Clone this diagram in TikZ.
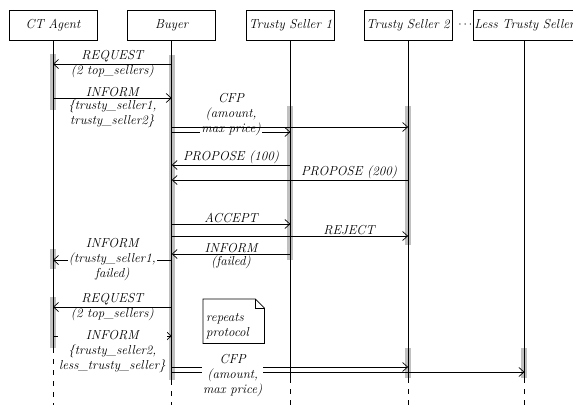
\documentclass[tikz,border=0pt]{standalone}
\usetikzlibrary{arrows.meta,positioning}
\definecolor{actgray}{HTML}{C0C0C0}

\begin{document}
\begin{tikzpicture}[x=1pt,y=-1pt,>={Straight Barb[length=5pt,width=9pt]},
  font=\fontsize{13}{15}\selectfont\itshape,
  actor/.style={draw,line width=0.7pt,minimum width=88pt,minimum height=30pt,inner sep=1pt},
  bar/.style={fill=actgray},
  life/.style={line width=0.7pt},
  lifeend/.style={line width=0.7pt,dash pattern=on 5pt off 6pt},
  msg/.style={->,line width=0.7pt},
  lbl/.style={align=center,inner sep=1pt},
  lblw/.style={lbl,fill=white}]
  \useasboundingbox (0,0) rectangle (573,405);

  % participants
  \node[actor] (agent) at (53,25) {CT Agent};
  \node[actor,right=30pt of agent] (buyer) {Buyer};
  \node[actor,right=30pt of buyer] (ts1) {Trusty Seller 1};
  \node[actor,right=29pt of ts1] (ts2) {Trusty Seller 2};
  \node[actor,right=21pt of ts2,minimum width=0pt,inner xsep=0.5pt] (lts) {Less Trusty Seller};
  \node[left=0pt of lts,inner sep=1pt] (dots) {$\cdots$};

  % activations
  \fill[bar] ([xshift=-3pt]agent |- 0,54) rectangle ([xshift=3pt]agent |- 0,110);
  \fill[bar] ([xshift=-3pt]agent |- 0,249) rectangle ([xshift=3pt]agent |- 0,269);
  \fill[bar] ([xshift=-3pt]agent |- 0,297) rectangle ([xshift=3pt]agent |- 0,348);
  \fill[bar] ([xshift=-3pt]buyer |- 0,55) rectangle ([xshift=3pt]buyer |- 0,380);
  \fill[bar] ([xshift=-3pt]ts1 |- 0,106) rectangle ([xshift=3pt]ts1 |- 0,260);
  \fill[bar] ([xshift=-3pt]ts2 |- 0,106) rectangle ([xshift=3pt]ts2 |- 0,245);
  \fill[bar] ([xshift=-3pt]ts2 |- 0,348) rectangle ([xshift=3pt]ts2 |- 0,378);
  \fill[bar] ([xshift=-3pt]lts |- 0,348) rectangle ([xshift=3pt]lts |- 0,378);

  % lifelines
  \draw[life] (agent) -- (agent |- 0,348);
  \draw[lifeend] (agent |- 0,348) -- (agent |- 0,405);
  \draw[life] (buyer) -- (buyer |- 0,380);
  \draw[lifeend] (buyer |- 0,380) -- (buyer |- 0,405);
  \foreach \p in {ts1,ts2,lts}{
    \draw[life] (\p) -- (\p |- 0,378);
    \draw[lifeend] (\p |- 0,378) -- (\p |- 0,405);
  }

  % first round
  \draw[msg] (buyer |- 0,64) -- node[lbl] {REQUEST\\(2 top\_sellers)} (agent |- 0,64);
  \draw[msg] (agent |- 0,98) -- node[lbl,above] {INFORM}
    node[lbl,below] {\{trusty\_seller1,\\trusty\_seller2\}} (buyer |- 0,98);
  \draw[msg] (buyer |- 0,132) -- node[lblw,yshift=17pt] {CFP\\(amount,\\max price)} (ts1 |- 0,132);
  \draw[msg] (buyer |- 0,127) -- (ts2 |- 0,127);
  \draw[msg] (ts1 |- 0,165) -- node[lbl,above] {PROPOSE (100)} (buyer |- 0,165);
  \draw[msg] (ts2 |- 0,180) -- node[lbl,above,pos=0.25] {PROPOSE (200)} (buyer |- 0,180);
  \draw[msg] (buyer |- 0,224) -- node[lbl,above] {ACCEPT} (ts1 |- 0,224);
  \draw[msg] (buyer |- 0,236) -- node[lbl,above,pos=0.75] {REJECT} (ts2 |- 0,236);
  \draw[msg] (ts1 |- 0,254) -- node[lbl,above] {INFORM}
    node[lbl,below] {(failed)} (buyer |- 0,254);
  \draw[msg] (buyer |- 0,260) -- node[lblw] {INFORM\\(trusty\_seller1,\\failed)} (agent |- 0,260);

  % second round
  \draw[msg] (buyer |- 0,307) -- node[lbl] {REQUEST\\(2 top\_sellers)} (agent |- 0,307);
  \draw[msg] (agent |- 0,336) -- node[lblw,yshift=-16pt]
    {INFORM\\\{trusty\_seller2,\\less\_trusty\_seller\}} (buyer |- 0,336);

  % note
  \node[anchor=north west,align=left,text width=55pt,inner sep=3pt,minimum height=44pt] (note) at (203,299) {\rule{0pt}{19pt}repeats\\protocol};
  \draw[line width=0.7pt] (note.north west) -- ([xshift=-9pt]note.north east)
    -- ([yshift=-9pt]note.north east) -- (note.south east) -- (note.south west) -- cycle;
  \draw[line width=0.7pt] ([xshift=-9pt]note.north east) |- ([yshift=-9pt]note.north east);

  \draw[msg] (buyer |- 0,367) -- (ts2 |- 0,367);
  \draw[msg] (buyer |- 0,372) -- node[lblw,pos=0.173,yshift=-4pt] {CFP\\(amount,\\max price)} (lts |- 0,372);
\end{tikzpicture}
\end{document}
